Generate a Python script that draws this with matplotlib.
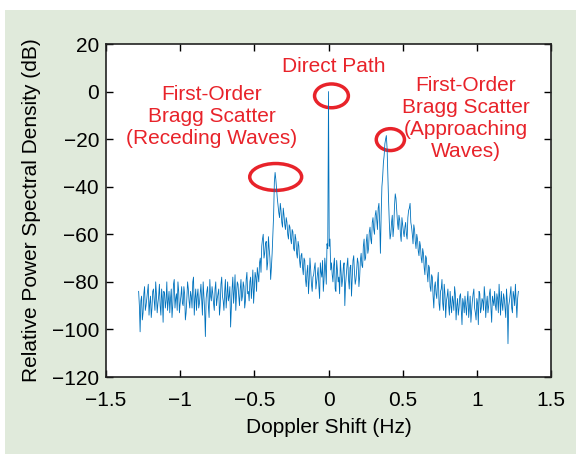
import numpy as np
import matplotlib
matplotlib.use('Agg')
import matplotlib.pyplot as plt
from matplotlib.patches import Ellipse, Rectangle

plt.rcParams['font.family'] = ['Liberation Sans', 'DejaVu Sans']

# Doppler spectrum.
# psd_db: samples at -1.28, -1.27, ..., 1.28 Hz
# psd_half_db: samples in between, at -1.275, -1.265, ..., 1.275 Hz
psd_db = [
    -84, -101, -86, -93, -82, -90, -84, -94, -86, -91,
    -83, -92, -85, -89, -81, -94, -87, -84, -91, -80,
    -88, -93, -83, -90, -79, -87, -92, -84, -89, -82,
    -90, -85, -93, -80, -88, -84, -91, -78, -87, -92,
    -83, -89, -81, -94, -86, -103, -84, -90, -79, -88,
    -85, -92, -80, -87, -83, -90, -78, -88, -84, -91,
    -80, -86, -99, -83, -89, -77, -85, -81, -90, -79,
    -86, -82, -88, -76, -84, -80, -87, -75, -83, -78,
    -74, -80, -70, -65, -60, -68, -63, -72, -66, -79,
    -68, -52, -34, -41, -48, -53, -50, -57, -52, -58,
    -55, -62, -57, -64, -59, -67, -62, -70, -65, -74,
    -68, -77, -71, -82, -73, -79, -75, -84, -77, -72,
    -80, -74, -87, -76, -71, -79, -74, -64, 0, -62,
    -72, -80, -70, -84, -75, -78, -71, -82, -74, -90,
    -77, -70, -83, -73, -79, -69, -81, -75, -72, -78,
    -68, -74, -62, -70, -60, -66, -57, -64, -53, -60,
    -50, -58, -47, -68, -40, -30, -22, -18.5, -35, -55,
    -60, -52, -57, -43, -50, -58, -54, -63, -56, -61,
    -55, -62, -50, -47, -57, -64, -58, -66, -62, -69,
    -65, -72, -68, -77, -70, -80, -74, -84, -78, -91,
    -80, -87, -76, -92, -83, -89, -81, -95, -86, -90,
    -84, -93, -88, -82, -96, -87, -91, -85, -98, -89,
    -86, -94, -84, -91, -97, -88, -83, -93, -87, -98,
    -85, -91, -88, -82, -95, -86, -90, -83, -97, -88,
    -84, -92, -87, -81, -94, -89, -85, -91, -83, -106,
    -88, -82, -93, -86, -81, -95, -84,
]
psd_half_db = [
    -90, -88, -96, -85, -92, -87, -81, -89, -95, -84,
    -88, -80, -93, -86, -90, -83, -97, -85, -88, -92,
    -84, -87, -95, -81, -91, -85, -80, -93, -86, -89,
    -82, -96, -87, -83, -91, -86, -80, -94, -83, -86,
    -91, -85, -88, -80, -92, -87, -82, -95, -86, -82,
    -89, -83, -90, -85, -94, -81, -86, -92, -79, -86,
    -88, -82, -91, -78, -84, -92, -80, -86, -83, -88,
    -80, -91, -79, -85, -88, -78, -82, -89, -76, -84,
    -77, -72, -76, -62, -70, -64, -75, -61, -70, -74,
    -60, -38, -37, -45, -51, -47, -55, -49, -56, -53,
    -60, -56, -62, -58, -66, -60, -68, -63, -71, -69,
    -74, -70, -79, -76, -85, -70, -81, -78, -74, -83,
    -77, -82, -72, -78, -84, -70, -81, -66, -65, -75,
    -77, -73, -83, -71, -80, -85, -76, -79, -72, -81,
    -73, -79, -74, -86, -71, -76, -79, -70, -82, -71,
    -73, -65, -71, -63, -68, -59, -62, -55, -58, -52,
    -54, -49, -55, -52, -36, -27, -20, -24, -46, -62,
    -55, -61, -48, -45, -55, -52, -60, -53, -59, -57,
    -60, -53, -49, -55, -60, -56, -63, -60, -67, -63,
    -70, -66, -74, -69, -76, -73, -82, -77, -86, -82,
    -85, -80, -89, -84, -79, -92, -85, -88, -83, -94,
    -90, -86, -92, -85, -90, -94, -86, -92, -87, -93,
    -90, -88, -95, -86, -92, -85, -91, -96, -89, -84,
    -93, -87, -92, -86, -89, -93, -85, -91, -86, -90,
    -90, -85, -93, -88, -84, -92, -87, -95, -88, -90,
    -85, -91, -84, -90, -88, -87,
]

xticks = [-1.5, -1, -0.5, 0, 0.5, 1, 1.5]
xticklabels = ['\u22121.5', '\u22121', '\u22120.5', '0', '0.5', '1', '1.5']
yticks = [-120, -100, -80, -60, -40, -20, 0, 20]
yticklabels = ['\u2212120', '\u2212100', '\u221280', '\u221260', '\u221240', '\u221220', '0', '20']

# merge the two sample sets on one frequency axis
freq = np.linspace(-1.28, 1.28, 513)
psd = np.empty(513)
psd[0::2] = psd_db
psd[1::2] = psd_half_db

red = '#e8232a'
fs = 15

fig = plt.figure(figsize=(5.76, 4.54), dpi=100)
fig.patch.set_facecolor('white')
fig.patches.append(Rectangle((5/576, 0), 1, 1 - 10/454, transform=fig.transFigure,
                             facecolor='#e0eadb', edgecolor='none', zorder=-10))

ax = fig.add_axes([106/576, 1 - 377/454, 445/576, 333/454])
ax.set_facecolor('white')
ax.plot(freq, psd, color='#0072BD', lw=0.6)

ax.set_xlim(-1.5, 1.5)
ax.set_ylim(-120, 20)
ax.set_xticks(xticks)
ax.set_xticklabels(xticklabels)
ax.set_yticks(yticks)
ax.set_yticklabels(yticklabels)
ax.tick_params(direction='in', length=5, width=1, top=True, right=True,
               labelsize=fs)
ax.tick_params(axis='x', pad=10)
ax.tick_params(axis='y', pad=5)
for s in ax.spines.values():
    s.set_linewidth(1.2)
    s.set_color('#222222')

ax.set_xlabel('Doppler Shift (Hz)', fontsize=fs, labelpad=6)
ax.set_ylabel('Relative Power Spectral Density (dB)', fontsize=fs, labelpad=8)

# red annotations
ax.text(-0.786, -10.6, 'First-Order\nBragg Scatter\n(Receding Waves)', color=red,
        fontsize=fs, ha='center', va='center', linespacing=1.2)
ax.text(0.034, 10.4, 'Direct Path', color=red, fontsize=fs, ha='center', va='center')
ax.text(0.925, -11.4, 'First-Order\nBragg Scatter\n(Approaching\nWaves)', color=red,
        fontsize=fs, ha='center', va='center', linespacing=1.2)

ax.add_patch(Ellipse((-0.356, -35.9), 0.35, 11.3, fill=False, edgecolor=red, lw=2.5))
ax.add_patch(Ellipse((0.02, -1.8), 0.228, 10, fill=False, edgecolor=red, lw=2.5))
ax.add_patch(Ellipse((0.417, -20.2), 0.19, 9.2, fill=False, edgecolor=red, lw=2.5))

fig.savefig('out.png', dpi=100, facecolor=fig.get_facecolor())
